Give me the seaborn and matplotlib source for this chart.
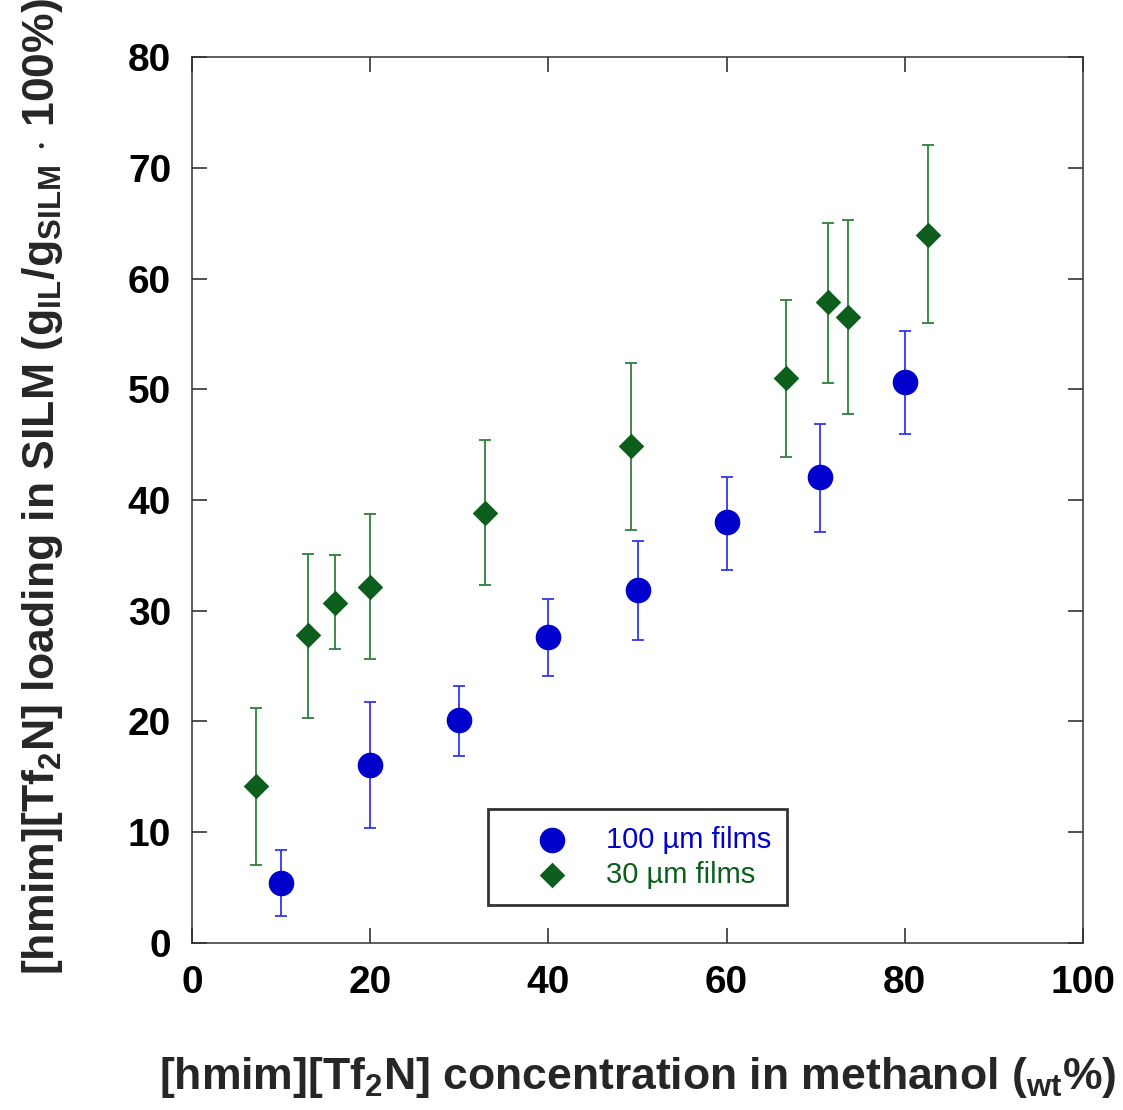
import numpy as np
import pandas as pd
import matplotlib
matplotlib.use("Agg")
import matplotlib.pyplot as plt
import seaborn as sns

# ---- data ----
x_100 = [10, 20, 30, 40, 50, 60, 70.5, 80]
y_100 = [5.4, 16.1, 20.1, 27.6, 31.9, 38.0, 42.1, 50.7]
lo_100 = [3.0, 5.7, 3.2, 3.5, 4.5, 4.3, 5.0, 4.7]
hi_100 = [3.0, 5.7, 3.1, 3.5, 4.4, 4.1, 4.8, 4.6]

x_30 = [7.2, 13.0, 16.0, 20.0, 32.9, 49.3, 66.7, 71.4, 73.6, 82.6]
y_30 = [14.2, 27.8, 30.7, 32.1, 38.8, 44.9, 51.0, 57.9, 56.5, 63.9]
lo_30 = [7.2, 7.5, 4.2, 6.5, 6.5, 7.6, 7.1, 7.3, 8.7, 7.9]
hi_30 = [7.0, 7.3, 4.3, 6.6, 6.6, 7.5, 7.1, 7.1, 8.8, 8.2]

labels = ["100 \u00b5m films", "30 \u00b5m films"]
xticks = [0, 20, 40, 60, 80, 100]
yticks = [0, 10, 20, 30, 40, 50, 60, 70, 80]

sns.set_style("white")
plt.rcParams['font.family'] = ['Liberation Sans', 'DejaVu Sans']
plt.rcParams['mathtext.fontset'] = 'custom'
plt.rcParams['mathtext.rm'] = 'Liberation Sans:bold'
plt.rcParams['mathtext.it'] = 'Liberation Sans:bold'
plt.rcParams['mathtext.bf'] = 'Liberation Sans:bold'

blue_m, blue_e = '#0000cc', '#3535ee'
green_m, green_e = '#0b5e1b', '#2f7f3f'

df = pd.concat([
    pd.DataFrame({'x': x_100, 'y': y_100, 'film': labels[0]}),
    pd.DataFrame({'x': x_30, 'y': y_30, 'film': labels[1]}),
])

fig = plt.figure(figsize=(11.23, 11.10), dpi=100)
ax = fig.add_axes([0.171, 0.1505, 0.7934, 0.7981])

ax.errorbar(x_100, y_100, yerr=[lo_100, hi_100], fmt='none', ecolor=blue_e,
            elinewidth=1.3, capsize=4.5, capthick=1.3, zorder=2)
ax.errorbar(x_30, y_30, yerr=[lo_30, hi_30], fmt='none', ecolor=green_e,
            elinewidth=1.3, capsize=4.5, capthick=1.3, zorder=2)

sns.scatterplot(data=df[df.film == labels[0]], x='x', y='y', ax=ax, color=blue_m,
                marker='o', s=340, linewidth=0, label=labels[0], zorder=3)
sns.scatterplot(data=df[df.film == labels[1]], x='x', y='y', ax=ax, color=green_m,
                marker='D', s=170, linewidth=0, label=labels[1], zorder=3)

ax.set_xlim(0, 100)
ax.set_ylim(0, 80)
ax.set_xticks(xticks)
ax.set_yticks(yticks)
ax.tick_params(axis='both', which='both', direction='in', length=10.5, width=1.1,
               top=True, right=True, bottom=True, left=True, labelsize=28,
               colors='#222222', labelcolor='black')
ax.tick_params(axis='x', pad=16)
ax.tick_params(axis='y', pad=15)
for lab in ax.get_xticklabels() + ax.get_yticklabels():
    lab.set_fontweight('bold')
for sp in ax.spines.values():
    sp.set_visible(True)
    sp.set_color('#333333')
    sp.set_linewidth(1.1)

ax.set_xlabel(r'[hmim][Tf$_{2}$N] concentration in methanol ($_{\mathrm{wt}}$%)',
              fontsize=32, fontweight='bold')
ax.xaxis.set_label_coords(0.5, -0.127)
ax.set_ylabel(r'[hmim][Tf$_{2}$N] loading in SILM (g$_{\mathrm{IL}}$/g$_{\mathrm{SILM}}$ $\cdot$ 100%)',
              fontsize=32, fontweight='bold')
ax.yaxis.set_label_coords(-0.143, 0.515)

leg = ax.legend(loc='lower left', bbox_to_anchor=(0.332, 0.043), frameon=True,
                fancybox=False, edgecolor='black', fontsize=21, borderpad=0.55,
                handletextpad=0.2, labelspacing=0.25, handlelength=3.3,
                borderaxespad=0)
leg.get_frame().set_linewidth(2)
for txt, c in zip(leg.get_texts(), [blue_m, green_m]):
    txt.set_color(c)

fig.savefig('out.png', dpi=100)
